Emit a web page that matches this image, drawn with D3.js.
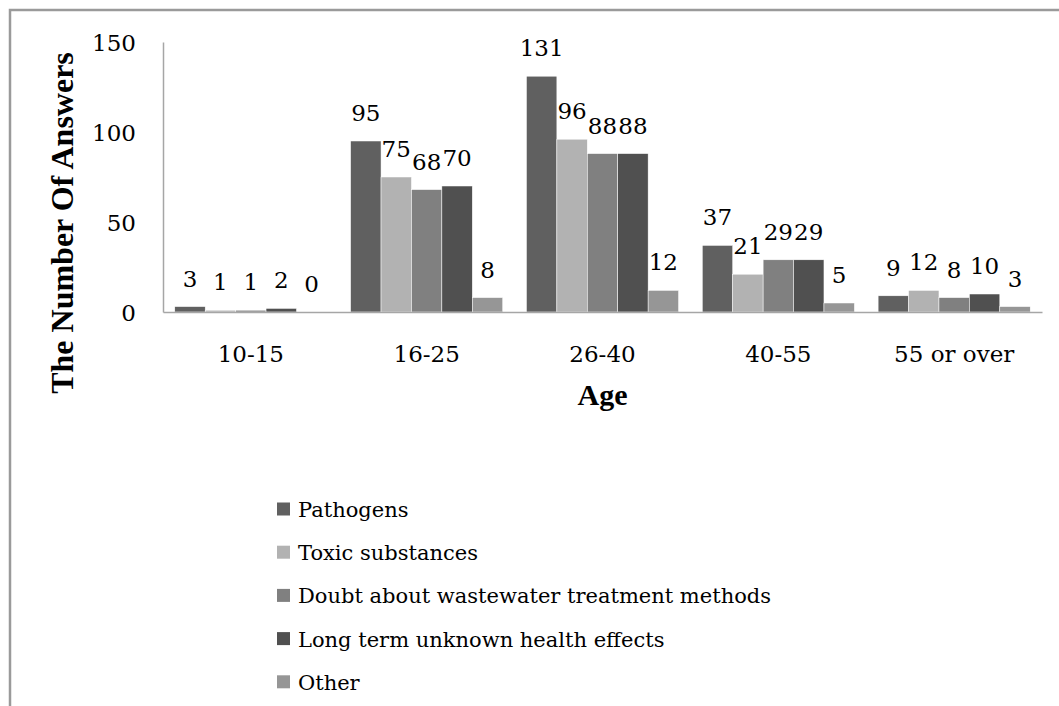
<!DOCTYPE html>
<html>
<head>
<meta charset="utf-8">
<script src="https://cdn.jsdelivr.net/npm/d3@7"></script>
<style>
  body { margin: 0; background: #fff; }
  svg text { fill: #000; }
</style>
</head>
<body>
<div id="chart"></div>
<script>
const ageGroups = ["10-15", "16-25", "26-40", "40-55", "55 or over"];
const seriesNames = [
  "Pathogens",
  "Toxic substances",
  "Doubt about wastewater treatment methods",
  "Long term unknown health effects",
  "Other"
];
const pathogens = [3, 95, 131, 37, 9];
const toxic = [1, 75, 96, 21, 12];
const doubt = [1, 68, 88, 29, 8];
const longTerm = [2, 70, 88, 29, 10];
const other = [0, 8, 12, 5, 3];
const seriesValues = [pathogens, toxic, doubt, longTerm, other];
const seriesColors = ["#606060", "#b2b2b2", "#808080", "#505050", "#969696"];
const yTicks = [0, 50, 100, 150];

const width = 1059, height = 706;
const plot = { left: 163, right: 1042, top: 42, bottom: 312 };
const serif = '"DejaVu Serif", serif';
const serifBold = '"Liberation Serif", "Times New Roman", serif';

const svg = d3.select("#chart").append("svg")
  .attr("width", width)
  .attr("height", height);

// outer frame (only top and left visible)
svg.append("path")
  .attr("d", `M10,${height} L10,10 L${width},10`)
  .attr("fill", "none")
  .attr("stroke", "#9a9a9a")
  .attr("stroke-width", 2.5);

const x0 = d3.scaleBand()
  .domain(ageGroups)
  .range([plot.left, plot.right])
  .paddingInner(0.135)
  .paddingOuter(0.067);

const x1 = d3.scaleBand()
  .domain(d3.range(seriesNames.length))
  .range([0, x0.bandwidth()]);

const y = d3.scaleLinear()
  .domain([0, 150])
  .range([plot.bottom, plot.top]);

// bars
const groups = svg.append("g")
  .selectAll("g")
  .data(ageGroups)
  .join("g")
  .attr("transform", d => `translate(${x0(d)},0)`);

groups.selectAll("rect")
  .data((d, i) => seriesValues.map((vals, s) => ({ s, v: vals[i] })))
  .join("rect")
  .attr("x", d => x1(d.s))
  .attr("y", d => y(d.v))
  .attr("width", x1.bandwidth())
  .attr("height", d => y(0) - y(d.v))
  .attr("fill", d => seriesColors[d.s])
  .attr("stroke", "#fff")
  .attr("stroke-width", 0.5);

groups.selectAll("text.val")
  .data((d, i) => seriesValues.map((vals, s) => ({ s, v: vals[i] })))
  .join("text")
  .attr("class", "val")
  .attr("text-anchor", "middle")
  .attr("x", d => x1(d.s) + x1.bandwidth() / 2)
  .attr("y", d => y(d.v) - 20)
  .style("font-family", serif)
  .style("font-size", "23px")
  .text(d => d.v);

// y axis
const yAxis = svg.append("g")
  .attr("transform", `translate(${plot.left},0)`)
  .call(d3.axisLeft(y).tickValues(yTicks).tickSize(0).tickPadding(27));
yAxis.attr("font-family", null);
yAxis.select(".domain").attr("stroke", "#a6a6a6").attr("stroke-width", 1.5);
yAxis.selectAll("text")
  .style("font-family", serif)
  .style("font-size", "23px")
  .attr("dy", "0.35em");

// x axis
const xAxis = svg.append("g")
  .attr("transform", `translate(0,${y(0)})`)
  .call(d3.axisBottom(x0).tickSize(0).tickSizeOuter(0));
xAxis.attr("font-family", null);
xAxis.select(".domain").attr("stroke", "#a6a6a6").attr("stroke-width", 1.5);
xAxis.selectAll("text")
  .attr("y", 50)
  .attr("dy", null)
  .style("font-family", serif)
  .style("font-size", "23px");

// axis titles
svg.append("text")
  .attr("text-anchor", "middle")
  .attr("transform", `translate(73,223) rotate(-90)`)
  .style("font-family", serifBold)
  .style("font-size", "32px")
  .style("font-weight", "bold")
  .text("The Number Of Answers");

svg.append("text")
  .attr("text-anchor", "middle")
  .attr("x", (plot.left + plot.right) / 2)
  .attr("y", 405)
  .style("font-family", serifBold)
  .style("font-size", "30px")
  .style("font-weight", "bold")
  .text("Age");

// legend
const legend = svg.append("g")
  .attr("transform", "translate(277,509)");
const rows = legend.selectAll("g")
  .data(seriesNames)
  .join("g")
  .attr("transform", (d, i) => `translate(0,${i * 43.2})`);
rows.append("rect")
  .attr("x", 0).attr("y", -6.5)
  .attr("width", 13).attr("height", 13)
  .attr("fill", (d, i) => seriesColors[i]);
rows.append("text")
  .attr("x", 21)
  .attr("y", 8)
  .style("font-family", serif)
  .style("font-size", "21px")
  .text(d => d);
</script>
</body>
</html>
